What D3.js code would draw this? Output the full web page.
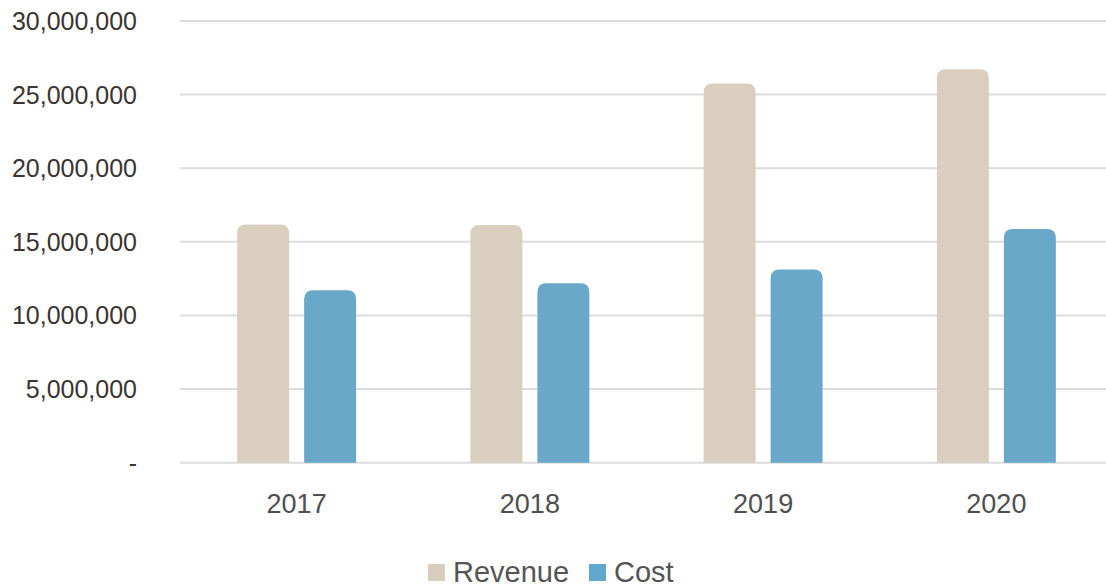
<!DOCTYPE html>
<head>
  <meta charset="utf-8">
  <script src="https://d3js.org/d3.v7.min.js"></script>
  <style>
    body { margin: 0; background: #fff; }
    text { font-family: "Liberation Sans", Arial, sans-serif; }
  </style>
</head>
<body>
  <script>
    var years = ["2017", "2018", "2019", "2020"];
    var seriesNames = ["Revenue", "Cost"];
    var revenue = [16180000, 16140000, 25760000, 26730000];
    var cost = [11720000, 12180000, 13130000, 15870000];
    var yTicks = [0, 5000000, 10000000, 15000000, 20000000, 25000000, 30000000];

    var colors = {Revenue: "#dacfbf", Cost: "#6aa8c9"};
    var legendColors = {Revenue: "#d8cdbd", Cost: "#60a8cc"};

    var width = 1106, height = 587;

    var svg = d3.select("body").append("svg")
        .attr("width", width)
        .attr("height", height);

    var x = d3.scaleBand()
        .domain(years)
        .range([180, 1113])
        .paddingInner(0.49)
        .paddingOuter(0.245);

    var x1 = d3.scaleBand()
        .domain(seriesNames)
        .range([0, x.bandwidth()])
        .paddingInner(0.224);

    var y = d3.scaleLinear()
        .domain([0, 30000000])
        .range([462.7, 21]);

    var fmt = d3.format(",");

    // gridlines
    svg.append("g").selectAll("line")
      .data(yTicks)
      .enter().append("line")
        .attr("x1", 180)
        .attr("x2", width)
        .attr("y1", function(d) { return y(d); })
        .attr("y2", function(d) { return y(d); })
        .attr("stroke", "#dcdcdc")
        .attr("stroke-width", 2);

    // y labels
    svg.append("g").selectAll("text")
      .data(yTicks)
      .enter().append("text")
        .attr("x", 137)
        .attr("y", function(d) { return y(d); })
        .attr("dy", "0.36em")
        .attr("text-anchor", "end")
        .attr("fill", "#3b3431")
        .style("font-size", "25px")
        .text(function(d) { return d === 0 ? "-" : fmt(d); });

    var rows = years.map(function(yr, i) {
      return {year: yr, Revenue: revenue[i], Cost: cost[i]};
    });

    function topRounded(x0, y0, w, h, r) {
      r = Math.min(r, w / 2, h);
      return "M" + x0 + "," + (y0 + h) +
        "V" + (y0 + r) +
        "Q" + x0 + "," + y0 + " " + (x0 + r) + "," + y0 +
        "H" + (x0 + w - r) +
        "Q" + (x0 + w) + "," + y0 + " " + (x0 + w) + "," + (y0 + r) +
        "V" + (y0 + h) + "Z";
    }

    var groups = svg.append("g").selectAll("g")
      .data(rows)
      .enter().append("g")
        .attr("transform", function(d) { return "translate(" + x(d.year) + ",0)"; });

    groups.selectAll("path")
      .data(function(d) { return seriesNames.map(function(k) { return {key: k, value: d[k]}; }); })
      .enter().append("path")
        .attr("fill", function(d) { return colors[d.key]; })
        .attr("d", function(d) {
          return topRounded(x1(d.key), y(d.value), x1.bandwidth(), y(0) - y(d.value), 9);
        });

    // x labels
    svg.append("g").selectAll("text")
      .data(years)
      .enter().append("text")
        .attr("x", function(d) { return x(d) + x.bandwidth() / 2; })
        .attr("y", 513)
        .attr("text-anchor", "middle")
        .attr("fill", "#4f4f4f")
        .style("font-size", "27px")
        .text(function(d) { return d; });

    // legend
    var legend = svg.append("g");
    var lx = [428, 589];
    seriesNames.forEach(function(k, i) {
      legend.append("rect")
        .attr("x", lx[i])
        .attr("y", 564)
        .attr("width", 17)
        .attr("height", 17)
        .attr("fill", legendColors[k]);
      legend.append("text")
        .attr("x", lx[i] + 25)
        .attr("y", 582)
        .attr("fill", "#555")
        .style("font-size", "29px")
        .text(k);
    });
  </script>
</body>
